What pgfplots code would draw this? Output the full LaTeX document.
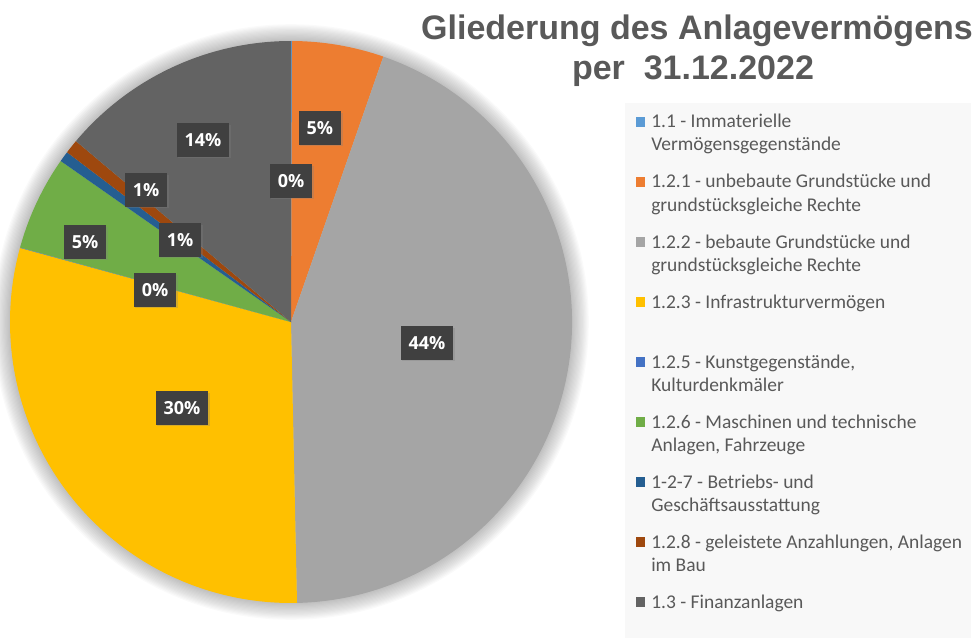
\documentclass[border=0pt]{standalone}
\usepackage{pgfplots}
\pgfplotsset{compat=1.18}
\usepackage{pgfplotstable}
\usepackage{fontspec}
\setmainfont{Carlito}
\newfontfamily\titlefont{Liberation Sans}
\newfontfamily\labelfont{Open Sans}
\usetikzlibrary{shadows}

\definecolor{pie0}{HTML}{5B9BD5}
\definecolor{pie1}{HTML}{ED7D31}
\definecolor{pie2}{HTML}{A5A5A5}
\definecolor{pie3}{HTML}{FFC000}
\definecolor{pie4}{HTML}{4472C4}
\definecolor{pie5}{HTML}{70AD47}
\definecolor{pie6}{HTML}{255E91}
\definecolor{pie7}{HTML}{9E480E}
\definecolor{pie8}{HTML}{636363}
\definecolor{txtgray}{HTML}{595959}
\definecolor{lblgray}{HTML}{404040}
\definecolor{legbg}{HTML}{F8F8F8}

\tikzset{lbl/.style={fill=lblgray, text=white,
    font=\labelfont\bfseries\fontsize{13.5}{15}\selectfont,
    inner xsep=6pt, inner ysep=0pt, minimum height=25pt,
    drop shadow={shadow xshift=1.2pt, shadow yshift=-1.2pt, opacity=0.3}}}

% shares of the fixed assets (percent), label positions in pie-radius units
\pgfplotstableread{
value lx ly
0.06 0.000 0.502
5.27 0.103 0.690
44.33 0.484 -0.075
29.59 -0.388 -0.306
0.02 -0.484 0.114
5.44 -0.733 0.285
0.61 -0.395 0.292
0.81 -0.516 0.470
13.87 -0.313 0.648
}\piedata

\def\total{0}
\pgfplotsforeachungrouped \i in {0,...,8}{%
  \pgfplotstablegetelem{\i}{value}\of\piedata
  \pgfmathsetmacro\total{\total+\pgfplotsretval}%
}

\begin{document}
\begin{tikzpicture}
\useasboundingbox (0,0) rectangle (733.5pt,-478.5pt);

\begin{axis}[
  at={(218.25pt,-241.5pt)}, anchor=center,
  hide axis, clip=false,
  x=210.75pt, y=210.75pt,
  xmin=-1, xmax=1, ymin=-1, ymax=1,
]
% soft shadow around the pie
\pgfplotsforeachungrouped \k in {1,...,14}{%
  \edef\temp{\noexpand\fill[black, opacity=0.02] (axis cs:0,0) circle[radius=\the\dimexpr 210.75pt + 0.9pt*\k\relax];}%
  \temp
}
% wedges
\def\cum{0}
\pgfplotsforeachungrouped \i in {0,...,8}{%
  \pgfplotstablegetelem{\i}{value}\of\piedata \let\pval\pgfplotsretval
  \pgfmathsetmacro\angA{90-360*(\cum/\total)}%
  \pgfmathsetmacro\angB{90-360*((\cum+\pval)/\total)}%
  \edef\temp{\noexpand\fill[pie\i] (axis cs:0,0) -- (axis cs:{cos(\angA)},{sin(\angA)}) arc[start angle=\angA, end angle=\angB, radius=210.75pt] -- cycle;}%
  \temp
  \pgfmathsetmacro\cum{\cum+\pval}%
}
% data labels
\pgfplotsforeachungrouped \i in {0,...,8}{%
  \pgfplotstablegetelem{\i}{value}\of\piedata \let\pval\pgfplotsretval
  \pgfplotstablegetelem{\i}{lx}\of\piedata \let\lx\pgfplotsretval
  \pgfplotstablegetelem{\i}{ly}\of\piedata \let\ly\pgfplotsretval
  \pgfmathtruncatemacro\pct{round(100*(\pval/\total))}%
  \edef\temp{\noexpand\node[lbl] at (axis cs:\lx,\ly) {\pct\noexpand\%};}%
  \temp
}
\end{axis}

\begin{scope}[x=0.75pt,y=-0.75pt]
% title
\node[anchor=base, inner sep=0, text=txtgray, font=\titlefont\bfseries\fontsize{25.5}{30}\selectfont] at (697,40) {Gliederung des Anlagevermögens};
\node[anchor=base, inner sep=0, text=txtgray, font=\titlefont\bfseries\fontsize{25.5}{30}\selectfont] at (693,80) {per\ \ 31.12.2022};
% legend
\fill[legbg] (625,103) rectangle (971,638);
\begin{scope}[every node/.style={anchor=base west, inner sep=0, text=txtgray, font=\fontsize{14.6}{17}\selectfont}]
\fill[pie0] (636,117) rectangle (645,127);
\node at (651,128) {1.1 - Immaterielle};
\node at (651,151) {Vermögensgegenstände};
\fill[pie1] (636,177) rectangle (645,187);
\node at (651,188) {1.2.1 - unbebaute Grundstücke und};
\node at (651,211) {grundstücksgleiche Rechte};
\fill[pie2] (636,237) rectangle (645,247);
\node at (651,248) {1.2.2 - bebaute Grundstücke und};
\node at (651,271) {grundstücksgleiche Rechte};
\fill[pie3] (636,297) rectangle (645,307);
\node at (651,308) {1.2.3 - Infrastrukturvermögen};
\fill[pie4] (636,357) rectangle (645,367);
\node at (651,368) {1.2.5 - Kunstgegenstände,};
\node at (651,391) {Kulturdenkmäler};
\fill[pie5] (636,417) rectangle (645,427);
\node at (651,428) {1.2.6 - Maschinen und technische};
\node at (651,451) {Anlagen, Fahrzeuge};
\fill[pie6] (636,477) rectangle (645,487);
\node at (651,488) {1-2-7 - Betriebs- und};
\node at (651,511) {Geschäftsausstattung};
\fill[pie7] (636,537) rectangle (645,547);
\node at (651,548) {1.2.8 - geleistete Anzahlungen, Anlagen};
\node at (651,571) {im Bau};
\fill[pie8] (636,597) rectangle (645,607);
\node at (651,608) {1.3 - Finanzanlagen};
\end{scope}
\end{scope}
\end{tikzpicture}
\end{document}
